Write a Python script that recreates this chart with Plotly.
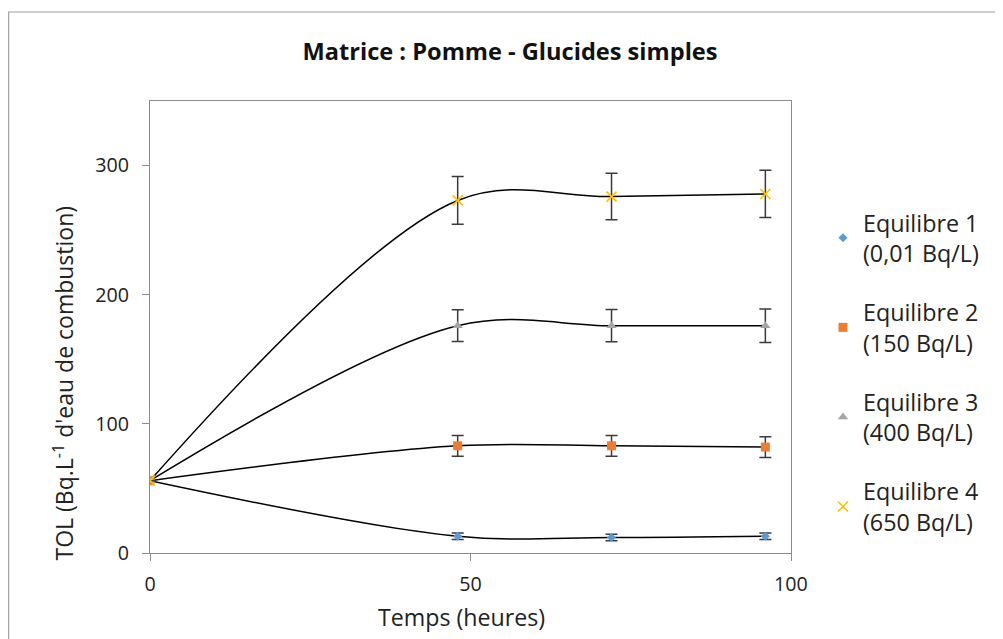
import plotly.graph_objects as go

times = [0, 48, 72, 96]
names = ["Equilibre 1<br>(0,01 Bq/L)", "Equilibre 2<br>(150 Bq/L)",
         "Equilibre 3<br>(400 Bq/L)", "Equilibre 4<br>(650 Bq/L)"]
eq1 = [56, 13, 12, 13]
eq2 = [56, 83, 83, 82]
eq3 = [56, 176, 176, 176]
eq4 = [56, 273, 276, 278]
err1 = [0, 2.5, 2.5, 2.5]
err2 = [0, 8, 8, 8]
err3 = [0, 12.3, 12.5, 13]
err4 = [0, 18.5, 18, 18.3]
x_ticks = [0, 50, 100]
y_ticks = [0, 100, 200, 300]

series = [eq1, eq2, eq3, eq4]
errors = [err1, err2, err3, err4]
colors = ["#5B9BD5", "#ED7D31", "#A5A5A5", "#FFC000"]
symbols = ["diamond", "square", "triangle-up", "x-thin"]
sizes = [7, 9, 9, 10]

FONT = "'Open Sans', sans-serif"
W, H = 995, 631
L, R, T, B = 142, 212, 93, 86
PW, PH = W - L - R, H - T - B
OFF = 8  # page offset between reference pixels and figure pixels

fig = go.Figure()
for ys in series:
    fig.add_trace(go.Scatter(x=times, y=ys, mode="lines",
                             line=dict(color="black", width=1.5, shape="spline", smoothing=1.0),
                             showlegend=False, hoverinfo="skip"))
for i, (ys, er) in enumerate(zip(series, errors)):
    mk = dict(color=colors[i], size=sizes[i], symbol=symbols[i])
    if symbols[i] == "x-thin":
        mk["line"] = dict(color=colors[i], width=1.6)
    fig.add_trace(go.Scatter(
        x=times, y=ys, mode="markers", name=names[i], marker=mk,
        legendgroup=f"g{i}",
        error_y=dict(type="data", array=er, visible=True, color="#3a3a3a", thickness=1.5, width=6)))

axis_common = dict(showgrid=False, zeroline=False, showline=True, linecolor="#8c8c8c",
                   linewidth=1.3, mirror=True, ticks="outside", ticklen=7, tickcolor="#8c8c8c",
                   tickfont=dict(size=19.7, color="#222222"))


def px(xr):
    return (xr - OFF - L) / PW


def py(yr):
    return (T + PH - (yr - OFF)) / PH


fig.update_layout(
    width=W, height=H,
    paper_bgcolor="white", plot_bgcolor="white",
    margin=dict(l=L, r=R, t=T, b=B),
    font=dict(family=FONT, size=18, color="#222222"),
    title=dict(text="<b>Matrice : Pomme - Glucides simples</b>", x=(510 - OFF) / W, xanchor="center",
               y=1 - (52 - OFF) / H, yanchor="middle", font=dict(size=23.6, family=FONT, color="#111111")),
    xaxis=dict(range=[0, 100], tickvals=x_ticks, ticklabelstandoff=6, **axis_common),
    yaxis=dict(range=[0, 350], tickvals=y_ticks, ticklabelstandoff=9, **axis_common),
    legend=dict(x=px(823), y=py(201), xanchor="left", yanchor="top",
                font=dict(size=23.3), tracegroupgap=26, traceorder="grouped", itemwidth=30,
                bgcolor="rgba(0,0,0,0)"),
    annotations=[
        dict(text="TOL (Bq.L<sup>-1</sup> d'eau de combustion)", textangle=-90,
             xref="paper", yref="paper", x=px(63), y=py(382.5),
             xanchor="center", yanchor="middle", showarrow=False, font=dict(size=23)),
        dict(text="Temps (heures)", xref="paper", yref="paper",
             x=px(461), y=py(617),
             xanchor="center", yanchor="middle", showarrow=False, font=dict(size=23.2)),
    ],
    shapes=[dict(type="rect", xref="paper", yref="paper",
                 x0=(0.7 - L) / PW, x1=(1000 - L) / PW,
                 y0=py(660), y1=py(12),
                 line=dict(color="#a0a0a0", width=1.2), fillcolor="rgba(0,0,0,0)", layer="below")],
)

fig.write_html("out.html")
